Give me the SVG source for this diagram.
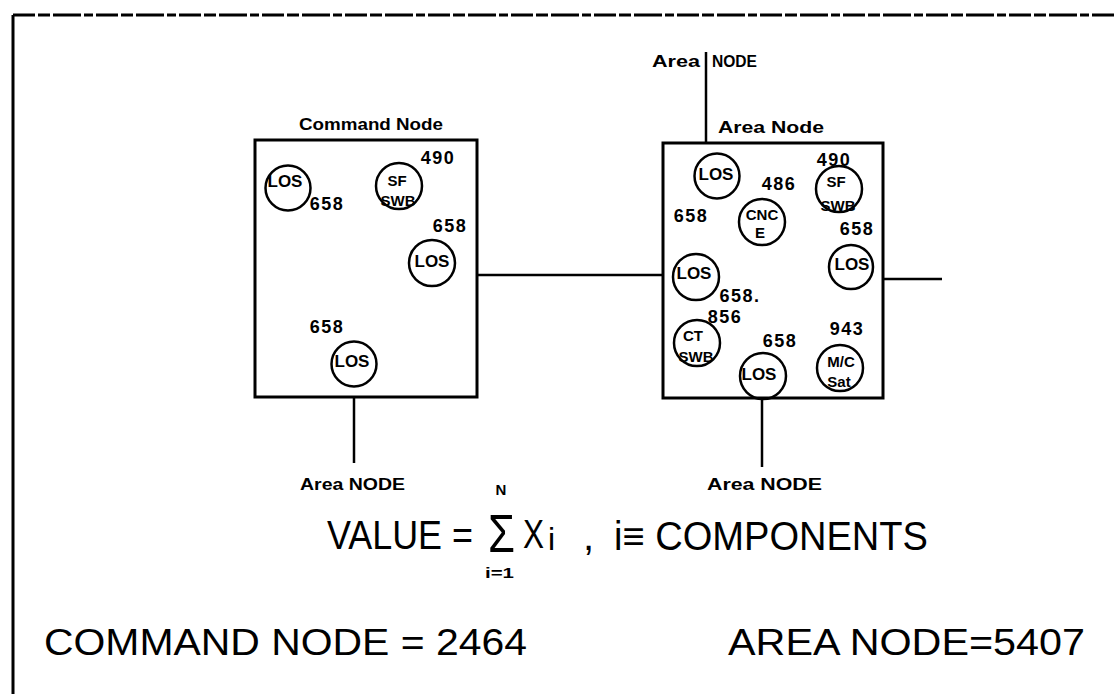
<svg xmlns="http://www.w3.org/2000/svg" width="1117" height="694" viewBox="0 0 1117 694">
<style>
.box{fill:none;stroke:#000;stroke-width:3}
.comp{fill:none;stroke:#000;stroke-width:2.5}
.ln{stroke:#000;stroke-width:2.5;fill:none}
.lbl{font-family:"Liberation Sans",Arial,sans-serif;font-weight:bold;font-size:17px;fill:#000}
.num{font-family:"Liberation Sans",Arial,sans-serif;font-weight:bold;font-size:18px;fill:#000;text-anchor:middle;letter-spacing:1.5px}
.ct{font-family:"Liberation Sans",Arial,sans-serif;font-weight:bold;font-size:17px;fill:#000;text-anchor:middle}
.ct2{font-family:"Liberation Sans",Arial,sans-serif;font-weight:bold;font-size:15px;fill:#000;text-anchor:middle}
.big{font-family:"Liberation Sans","DejaVu Sans",Arial,sans-serif;font-size:40px;fill:#000}
.bot{font-family:"Liberation Sans","DejaVu Sans",Arial,sans-serif;font-size:36px;fill:#000}
</style>
<rect width="1117" height="694" fill="#fff"/>
<g id="frame">
<line x1="13" y1="15" x2="1117" y2="15" stroke="#000" stroke-width="3" stroke-dasharray="22 3 12 3 28 3 9 3"/>
<line x1="13" y1="15" x2="13" y2="694" stroke="#000" stroke-width="3"/>
</g>
<g id="connectors">
<line class="ln" x1="477" y1="275" x2="663" y2="275"/>
<line class="ln" x1="354" y1="397" x2="354" y2="463"/>
<line class="ln" x1="706" y1="52" x2="706" y2="143"/>
<line class="ln" x1="762" y1="398" x2="762" y2="467"/>
<line class="ln" x1="884" y1="279" x2="942" y2="279"/>
</g>
<g id="command-node">
<rect class="box" x="255" y="140" width="222" height="257"/>
<text class="lbl" x="299" y="130" textLength="144" lengthAdjust="spacingAndGlyphs">Command Node</text>
<circle class="comp" cx="288" cy="188" r="22.5"/>
<text class="ct" x="285" y="187">LOS</text>
<circle class="comp" cx="399" cy="186" r="23"/>
<text class="ct2" x="397" y="186">SF</text>
<text class="ct2" x="398" y="206">SWB</text>
<circle class="comp" cx="432" cy="263" r="23"/>
<text class="ct" x="432" y="267">LOS</text>
<circle class="comp" cx="354" cy="364" r="22.5"/>
<text class="ct" x="352" y="367">LOS</text>
<text class="num" x="438" y="164">490</text>
<text class="num" x="327" y="210">658</text>
<text class="num" x="450" y="232">658</text>
<text class="num" x="327" y="333">658</text>
</g>
<g id="area-node">
<rect class="box" x="663" y="143" width="220" height="255"/>
<text class="lbl" x="718" y="133" textLength="106" lengthAdjust="spacingAndGlyphs">Area Node</text>
<circle class="comp" cx="717" cy="176" r="22.5"/>
<text class="ct" x="716" y="180">LOS</text>
<circle class="comp" cx="839" cy="189" r="23"/>
<text class="ct2" x="836" y="187">SF</text>
<text class="ct2" x="838" y="211">SWB</text>
<circle class="comp" cx="762" cy="222" r="23"/>
<text class="ct2" x="762" y="220">CNC</text>
<text class="ct2" x="760" y="238">E</text>
<circle class="comp" cx="851" cy="267" r="22"/>
<text class="ct" x="852" y="270">LOS</text>
<circle class="comp" cx="696" cy="277" r="23"/>
<text class="ct" x="694" y="279">LOS</text>
<circle class="comp" cx="697" cy="343" r="23"/>
<text class="ct2" x="693" y="341">CT</text>
<text class="ct2" x="696" y="362">SWB</text>
<circle class="comp" cx="840" cy="368" r="23"/>
<text class="ct2" x="841" y="367">M/C</text>
<text class="ct2" x="839" y="387">Sat</text>
<circle class="comp" cx="763" cy="376" r="23"/>
<text class="ct" x="759" y="380">LOS</text>
<text class="num" x="779" y="190">486</text>
<text class="num" x="834" y="166">490</text>
<text class="num" x="691" y="222">658</text>
<text class="num" x="857" y="235">658</text>
<text class="num" x="740" y="302">658.</text>
<text class="num" x="725" y="323">856</text>
<text class="num" x="780" y="347">658</text>
<text class="num" x="847" y="335">943</text>
</g>
<g id="external-labels">
<text class="lbl" x="652" y="67" textLength="48" lengthAdjust="spacingAndGlyphs">Area</text>
<text class="lbl" x="712" y="67" style="font-size:16px" textLength="45" lengthAdjust="spacingAndGlyphs">NODE</text>
<text class="lbl" x="300" y="490" textLength="105" lengthAdjust="spacingAndGlyphs">Area NODE</text>
<text class="lbl" x="707" y="490" textLength="115" lengthAdjust="spacingAndGlyphs">Area NODE</text>
</g>
<g id="formula">
<text class="big" x="327" y="549" textLength="146" lengthAdjust="spacingAndGlyphs">VALUE =</text>
<text class="big" x="488" y="552" style="font-size:54px" textLength="27" lengthAdjust="spacingAndGlyphs">Σ</text>
<text class="lbl" x="501" y="495" style="font-size:15px;text-anchor:middle">N</text>
<text class="lbl" x="485" y="578" style="font-size:14px" textLength="29" lengthAdjust="spacingAndGlyphs">i=1</text>
<text class="big" x="523" y="548" textLength="21" lengthAdjust="spacingAndGlyphs">X</text>
<text class="big" x="548" y="550" style="font-size:32px">i</text>
<text class="big" x="583" y="550">,</text>
<text class="big" x="614" y="550" textLength="314" lengthAdjust="spacingAndGlyphs">i≡ COMPONENTS</text>
</g>
<g id="totals">
<text class="bot" x="44" y="655" textLength="483" lengthAdjust="spacingAndGlyphs">COMMAND  NODE = 2464</text>
<text class="bot" x="728" y="655" textLength="357" lengthAdjust="spacingAndGlyphs">AREA NODE=5407</text>
</g>
</svg>
